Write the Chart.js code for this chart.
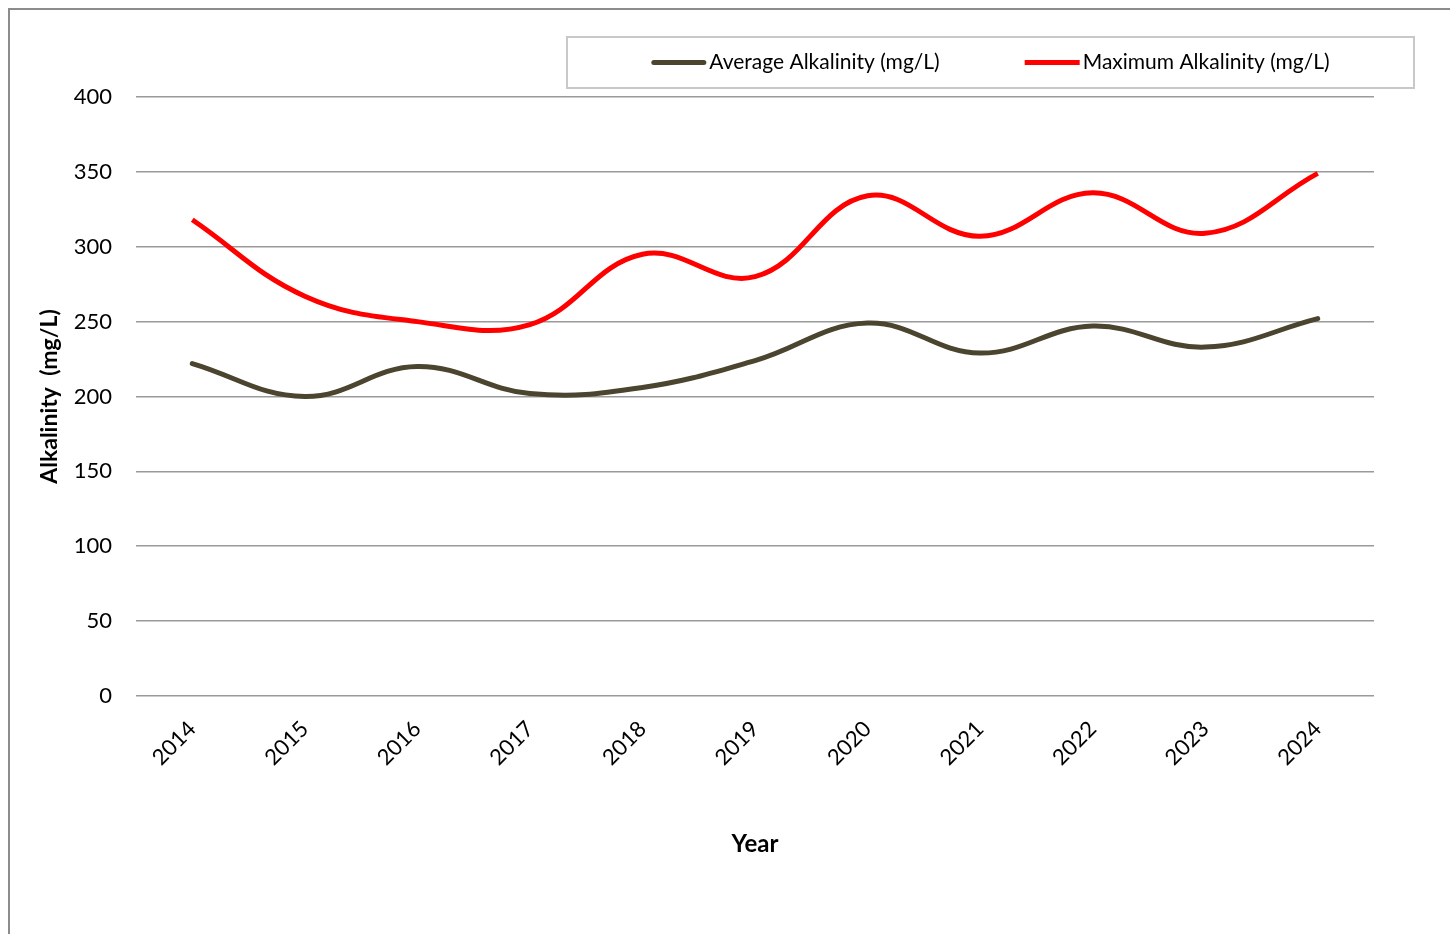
<!DOCTYPE html>
<html>
<head>
<meta charset="utf-8">
<title>Alkalinity 2014–2024</title>
<script src="https://cdn.jsdelivr.net/npm/chart.js@4"></script>
<style>
  html, body { margin: 0; padding: 0; background: #ffffff; }
  #wrap { width: 1450px; height: 934px; position: relative; }
</style>
</head>
<body>
<div id="wrap"><canvas id="chart" width="1450" height="934"></canvas></div>
<script>
const years = ['2014', '2015', '2016', '2017', '2018', '2019', '2020', '2021', '2022', '2023', '2024'];
const averageAlkalinity = [222, 200, 220, 202, 206, 224, 249, 229, 247, 233, 252];
const maximumAlkalinity = [318, 267, 250, 248, 295, 280, 334, 307, 336, 309, 349];
const yTicks = [0, 50, 100, 150, 200, 250, 300, 350, 400];

const FONT = 'Lato, "Open Sans", sans-serif';

// Outer frame (top and left edges) and a boxed legend
const framePlugin = {
  id: 'frame',
  beforeDraw(chart) {
    const ctx = chart.ctx;
    ctx.save();
    ctx.fillStyle = '#ffffff';
    ctx.fillRect(0, 0, chart.width, chart.height);
    ctx.strokeStyle = '#8c8c8c';
    ctx.lineWidth = 2;
    ctx.beginPath();
    ctx.moveTo(9, chart.height);
    ctx.lineTo(9, 9);
    ctx.lineTo(chart.width, 9);
    ctx.stroke();
    ctx.restore();
  },
  afterDraw(chart) {
    const ctx = chart.ctx;
    const box = { x: 567, y: 37, w: 847, h: 51 };
    ctx.save();
    ctx.strokeStyle = '#c8c8c8';
    ctx.lineWidth = 2;
    ctx.strokeRect(box.x, box.y, box.w, box.h);
    ctx.font = '21px ' + FONT;
    ctx.textBaseline = 'middle';
    ctx.textAlign = 'left';
    const sample = 55, gapText = 3, gapItem = 85;
    const items = chart.data.datasets.map(ds => ({
      label: ds.label, color: ds.borderColor, cap: ds.borderCapStyle,
      tw: ctx.measureText(ds.label).width
    }));
    const total = items.reduce((s, it) => s + sample + gapText + it.tw, 0) + gapItem * (items.length - 1);
    let x = box.x + (box.w - total) / 2;
    const cy = box.y + box.h / 2;
    items.forEach(it => {
      ctx.strokeStyle = it.color;
      ctx.lineWidth = 5;
      ctx.lineCap = it.cap || 'butt';
      ctx.beginPath();
      ctx.moveTo(x + (it.cap === 'round' ? 2.5 : 0), cy);
      ctx.lineTo(x + sample - (it.cap === 'round' ? 2.5 : 0), cy);
      ctx.stroke();
      ctx.fillStyle = '#000000';
      ctx.fillText(it.label, x + sample + gapText, cy);
      x += sample + gapText + it.tw + gapItem;
    });
    ctx.restore();
  }
};

new Chart(document.getElementById('chart'), {
  type: 'line',
  data: {
    labels: years,
    datasets: [
      {
        label: 'Average Alkalinity (mg/L)',
        data: averageAlkalinity,
        borderColor: '#4b4530',
        backgroundColor: '#4b4530',
        borderWidth: 5,
        borderCapStyle: 'round',
        pointRadius: 0,
        tension: 0.4,
        fill: false
      },
      {
        label: 'Maximum Alkalinity (mg/L)',
        data: maximumAlkalinity,
        borderColor: '#ff0000',
        backgroundColor: '#ff0000',
        borderWidth: 5,
        borderCapStyle: 'butt',
        pointRadius: 0,
        tension: 0.4,
        fill: false
      }
    ]
  },
  options: {
    responsive: false,
    animation: false,
    layout: { padding: { left: 28, top: 97, right: 76, bottom: 0 } },
    plugins: {
      legend: { display: false },
      tooltip: { enabled: false }
    },
    scales: {
      x: {
        offset: true,
        grid: { display: false, drawTicks: false },
        border: { display: false },
        ticks: {
          color: '#000000',
          font: { family: FONT, size: 22 },
          minRotation: 45,
          maxRotation: 45,
          padding: 20
        },
        title: {
          display: true,
          text: 'Year',
          color: '#000000',
          font: { family: FONT, size: 24, weight: 'bold' },
          padding: { top: 75, bottom: 75 }
        },
        afterFit(scale) { scale.height = 238; }
      },
      y: {
        min: 0,
        max: 400,
        afterBuildTicks(scale) { scale.ticks = yTicks.map(v => ({ value: v })); },
        grid: { color: '#9a9a9a', lineWidth: 1.6, drawTicks: false },
        border: { display: false },
        ticks: {
          color: '#000000',
          font: { family: FONT, size: 22 },
          padding: 24
        },
        title: {
          display: true,
          text: 'Alkalinity  (mg/L)',
          color: '#000000',
          font: { family: FONT, size: 23, weight: 'bold' },
          padding: { top: 8, bottom: 8 }
        },
        afterFit(scale) { scale.width = 108; }
      }
    }
  },
  plugins: [framePlugin]
});
</script>
</body>
</html>
